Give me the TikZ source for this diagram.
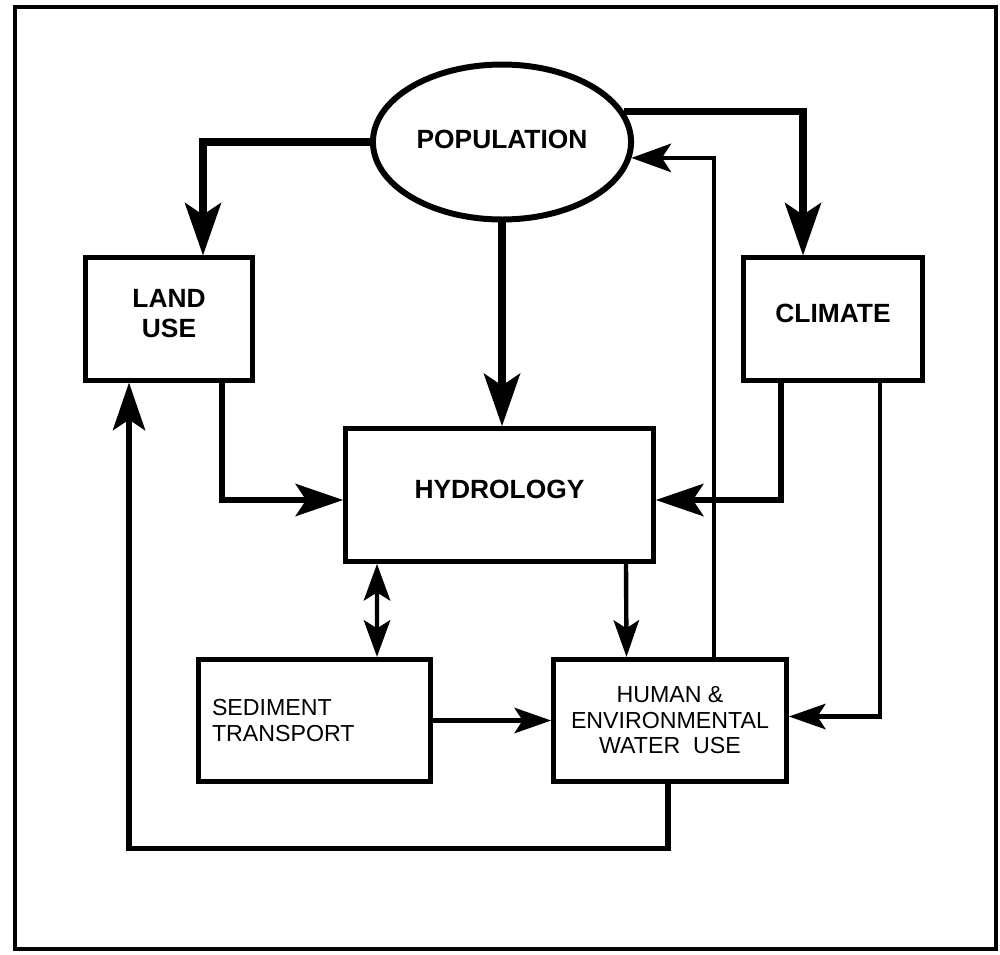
\documentclass[tikz,border=0pt]{standalone}
\usepackage{fontspec}
\setmainfont{Liberation Sans}
\usetikzlibrary{shapes.geometric,arrows.meta,calc}

\tikzset{
  box/.style={draw,rectangle,line width=2.8pt,minimum height=2.45cm,inner sep=0pt,align=center,fill=white},
  big/.style={font=\fontsize{15}{17}\selectfont\bfseries,text depth=7pt},
  small/.style={font=\fontsize{13.2}{14.5}\selectfont},
  arrB/.style={line width=4pt,arrows={-Stealth[length=1.06cm,width=0.74cm,inset=0.25cm,line width=0pt]}},
  arrM/.style={line width=2.9pt,arrows={-Stealth[length=0.96cm,width=0.66cm,inset=0.22cm,line width=0pt]}},
  arrS/.style={line width=2.7pt,arrows={-Stealth[length=0.8cm,width=0.58cm,inset=0.19cm,line width=0pt]}},
  arrT/.style={line width=2.5pt,arrows={-Stealth[length=0.74cm,width=0.52cm,inset=0.17cm,line width=0pt]}},
  arrD/.style={line width=2.4pt,arrows={Stealth[length=0.74cm,width=0.54cm,inset=0.17cm,line width=0pt]-Stealth[length=0.74cm,width=0.54cm,inset=0.17cm,line width=0pt]}}
}

\begin{document}
\begin{tikzpicture}[x=0.02cm,y=-0.02cm]
  \useasboundingbox (0,0) rectangle (1000,954);
  \draw[line width=2.4pt] (15,7) rectangle (996,949);

  % boxes
  \node[draw,ellipse,line width=3.4pt,minimum width=5.1cm,minimum height=3.1cm,fill=white,big,text depth=3pt] (pop) at (502,142) {POPULATION};
  \node[box,big,minimum width=3.34cm,text depth=6pt] (land) at (169,319) {LAND\\USE};
  \node[box,big,minimum width=3.58cm] (clim) at (833,319) {CLIMATE};
  \node[box,big,minimum width=6.16cm,minimum height=2.66cm] (hyd) at (499.5,495) {HYDROLOGY};
  \node[box,small,minimum width=4.64cm,text width=4.1cm,align=left] (sed) at (314.5,720.5) {SEDIMENT\\TRANSPORT};
  \node[box,small,minimum width=4.66cm] (hum) at (670,720.5) {HUMAN \&\\ENVIRONMENTAL\\WATER~~USE};

  % arrows
  \draw[arrB] (pop.west) -| ($(land.north)+(34,0)$);
  \draw[arrB] (pop.south) -- (pop.south |- hyd.north);
  \draw[arrB] (pop.14) -| ($(clim.north)+(-30,0)$);
  \draw[arrS] ($(hum.north)+(44,0)$) |- (pop.-7);
  \draw[arrM] ($(land.south)+(53,0)$) |- ($(hyd.west)+(0,5)$);
  \draw[arrM] ($(clim.south)+(-52,0)$) |- ($(hyd.east)+(0,5)$);
  \draw[arrT] ($(clim.south)+(47,0)$) |- ($(hum.east)+(0,-4)$);
  \draw[arrT] ($(hyd.south)+(126.5,0)$) -- ($(hum.north)+(-43.5,0)$);
  \draw[arrD] ($(hyd.south)+(-122.5,0)$) -- ($(sed.north)+(62.5,0)$);
  \draw[arrT] (sed.east) -- (hum.west);
  \draw[arrM] ($(hum.south)+(-2,0)$) -- ++(0,64) -| ($(land.south)+(-40,0)$);
\end{tikzpicture}
\end{document}
